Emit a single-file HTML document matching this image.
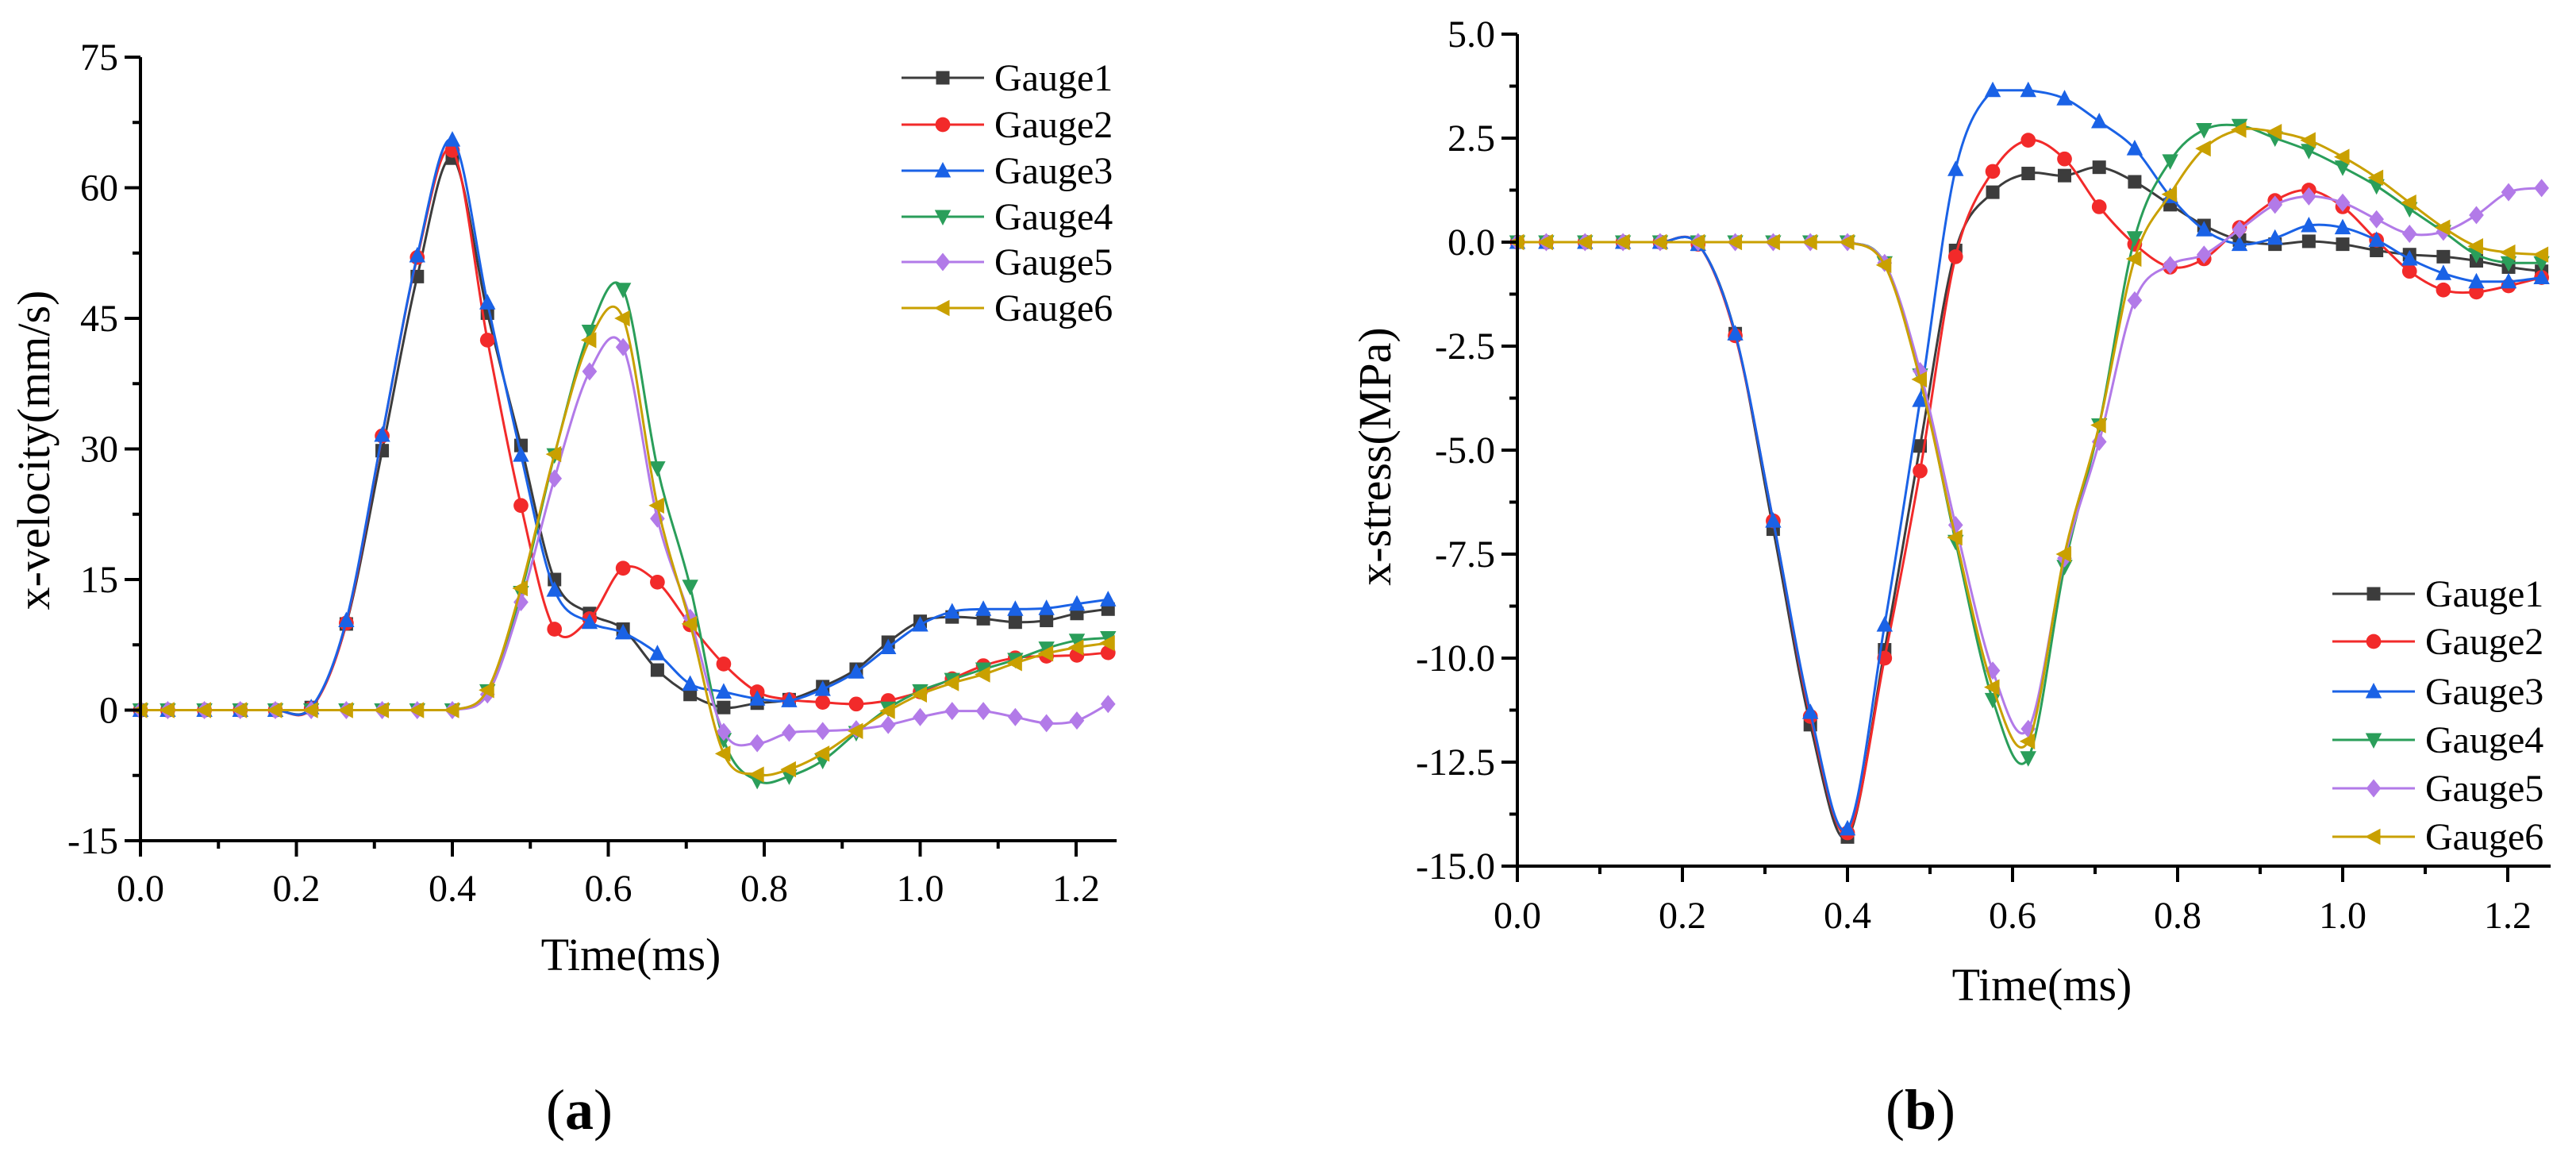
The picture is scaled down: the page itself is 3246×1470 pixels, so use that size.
<!DOCTYPE html>
<html><head><meta charset="utf-8"><style>
html,body{margin:0;padding:0;background:#fff;}
svg{display:block;}
svg text{font-family:"Liberation Serif",serif;}
</style></head><body>
<svg id="root" width="3246" height="1470" viewBox="0 0 3246 1470" font-family="Liberation Serif, serif">
<text x="730" y="1422" font-size="72" text-anchor="middle">(<tspan font-weight="bold">a</tspan>)</text>
<text x="2420" y="1422" font-size="72" text-anchor="middle">(<tspan font-weight="bold">b</tspan>)</text>
</svg>
<script>
const times=[0,0.035,0.082,0.128,0.173,0.219,0.264,0.310,0.355,0.400,0.445,0.488,0.531,0.576,0.619,0.663,0.705,0.748,0.791,0.832,0.875,0.918,0.959,1.0,1.041,1.081,1.122,1.162,1.201,1.241];
const seriesNames=["Gauge1","Gauge2","Gauge3","Gauge4","Gauge5","Gauge6"];
const velG1=[0,0,0,0,0,0.3,9.9,29.8,49.8,63.4,45.6,30.4,15,11.1,9.3,4.6,1.8,0.3,0.8,1.2,2.7,4.7,7.8,10.2,10.7,10.5,10.1,10.3,11.1,11.6];
const velG2=[0,0,0,0,0,0.2,10,31.5,52,64.3,42.5,23.5,9.3,10.5,16.3,14.7,9.8,5.3,2.1,1.2,0.9,0.7,1.1,2.1,3.6,5.1,6,6.2,6.3,6.6];
const velG3=[0,0,0,0,0,0.3,10.3,31.6,52.2,65.5,46.8,29.3,13.8,10.1,8.9,6.5,3,2.1,1.3,1.1,2.4,4.4,7.2,9.8,11.3,11.6,11.6,11.7,12.2,12.7];
const velG4=[0,0,0,0,0,0,0,0,0,0,2.2,13.5,29.3,43.5,48.3,27.8,14.2,-3.4,-8.1,-7.6,-5.8,-2.6,0.2,2.2,3.5,4.7,5.8,7.1,8,8.3];
const velG5=[0,0,0,0,0,0,0,0,0,0,1.8,12.4,26.6,38.9,41.7,22,10.6,-2.5,-3.8,-2.6,-2.4,-2.2,-1.7,-0.8,-0.1,-0.1,-0.8,-1.5,-1.2,0.7];
const velG6=[0,0,0,0,0,0,0,0,0,0,2.3,14,29.4,42.5,45,23.5,9.9,-5,-7.4,-6.8,-5,-2.4,-0.1,1.8,3.1,4.1,5.4,6.5,7.2,7.7];
const strG1=[0,0,0,0,0,-0.05,-2.2,-6.9,-11.6,-14.3,-9.8,-4.9,-0.2,1.2,1.65,1.6,1.8,1.45,0.9,0.4,0.05,-0.05,0.02,-0.05,-0.2,-0.3,-0.35,-0.45,-0.6,-0.7];
const strG2=[0,0,0,0,0,-0.05,-2.25,-6.7,-11.4,-14.2,-10,-5.5,-0.35,1.7,2.45,2,0.85,-0.05,-0.6,-0.4,0.35,1.0,1.25,0.85,0.05,-0.7,-1.15,-1.2,-1.05,-0.85];
const strG3=[0,0,0,0,0,-0.05,-2.2,-6.7,-11.3,-14.1,-9.2,-3.8,1.75,3.65,3.65,3.45,2.9,2.25,1.1,0.3,-0.05,0.1,0.4,0.35,0.05,-0.4,-0.75,-0.95,-0.95,-0.85];
const strG4=[0,0,0,0,0,0,0,0,0,0,-0.5,-3.2,-7.2,-11,-12.4,-7.8,-4.4,0.1,1.95,2.7,2.8,2.5,2.2,1.8,1.35,0.8,0.25,-0.3,-0.5,-0.5];
const strG5=[0,0,0,0,0,0,0,0,0,0,-0.5,-3.1,-6.8,-10.3,-11.7,-7.6,-4.8,-1.4,-0.55,-0.3,0.3,0.9,1.1,0.95,0.55,0.2,0.25,0.65,1.2,1.3];
const strG6=[0,0,0,0,0,0,0,0,0,0,-0.55,-3.3,-7.1,-10.7,-12,-7.5,-4.4,-0.4,1.15,2.25,2.7,2.65,2.45,2.05,1.55,0.95,0.35,-0.1,-0.25,-0.3];
const xTicks=[0,0.2,0.4,0.6,0.8,1.0,1.2];
const xTickLabels=["0.0","0.2","0.4","0.6","0.8","1.0","1.2"];
const velTicks=[-15,0,15,30,45,60,75];
const velTickLabels=["-15","0","15","30","45","60","75"];
const strTicks=[-15,-12.5,-10,-7.5,-5,-2.5,0,2.5,5];
const strTickLabels=["-15.0","-12.5","-10.0","-7.5","-5.0","-2.5","0.0","2.5","5.0"];

const colors=["#3c3c3c","#f22a2a","#1a62e6","#2a9e5a","#b27ae8","#c9a000"];
const markers=["square","circle","up","down","diamond","left"];
const NS="http://www.w3.org/2000/svg";
const root=document.getElementById('root');
const FF="Liberation Serif, serif";
function mk(tag,attrs,parent){const e=document.createElementNS(NS,tag);for(const k in attrs)e.setAttribute(k,attrs[k]);(parent||root).appendChild(e);return e;}

function spline(pts){
  let d=`M${pts[0][0]},${pts[0][1]}`;
  for(let i=0;i<pts.length-1;i++){
    const p0=pts[Math.max(i-1,0)],p1=pts[i],p2=pts[i+1],p3=pts[Math.min(i+2,pts.length-1)];
    let c1y=p1[1]+(p2[1]-p0[1])/6, c2y=p2[1]-(p3[1]-p1[1])/6;
    if(p1[1]===p2[1]){c1y=p1[1];c2y=p2[1];}
    const c1=[p1[0]+(p2[0]-p0[0])/6,c1y];
    const c2=[p2[0]-(p3[0]-p1[0])/6,c2y];
    d+=` C${c1[0].toFixed(1)},${c1[1].toFixed(1)} ${c2[0].toFixed(1)},${c2[1].toFixed(1)} ${p2[0].toFixed(1)},${p2[1].toFixed(1)}`;
  }
  return d;
}
function marker(g,type,x,y,c,s){
  let e;
  if(type==="square") e=mk('rect',{x:x-s,y:y-s,width:2*s,height:2*s,fill:c},g);
  else if(type==="circle") e=mk('circle',{cx:x,cy:y,r:s*1.1,fill:c},g);
  else if(type==="up") e=mk('polygon',{points:`${x},${y-s*1.3} ${x-s*1.2},${y+s} ${x+s*1.2},${y+s}`,fill:c},g);
  else if(type==="down") e=mk('polygon',{points:`${x},${y+s*1.3} ${x-s*1.2},${y-s} ${x+s*1.2},${y-s}`,fill:c},g);
  else if(type==="diamond") e=mk('polygon',{points:`${x},${y-s*1.35} ${x+s*1.1},${y} ${x},${y+s*1.35} ${x-s*1.1},${y}`,fill:c},g);
  else e=mk('polygon',{points:`${x-s*1.3},${y} ${x+s},${y-s*1.2} ${x+s},${y+s*1.2}`,fill:c},g);
  return e;
}

function chart(cfg){
  const g=mk('g',{});
  
  
  const sx=t=>cfg.x0+(t-0)*cfg.pxPerX;
  const sy=v=>cfg.yTop+(cfg.yMax-v)*(cfg.yBot-cfg.yTop)/(cfg.yMax-cfg.yMin);
  const xEnd=sx(1.252);
  cfg.series.forEach((vals,si)=>{
    const sg=mk('g',{},g);
    
    
    const pts=times.map((t,i)=>[sx(t),sy(vals[i])]);
    const p=mk('path',{d:spline(pts),fill:'none',stroke:colors[si],'stroke-width':3},sg);
    
    
    pts.forEach(q=>{const m=marker(sg,markers[si],q[0],q[1],colors[si],8.5);
      
      });
  });
  const ax=mk('g',{stroke:'#000','stroke-width':4},g);
  
  
  mk('line',{x1:cfg.x0,y1:cfg.yTop,x2:cfg.x0,y2:cfg.yBot+2},ax);
  mk('line',{x1:cfg.x0-2,y1:cfg.yBot,x2:xEnd,y2:cfg.yBot},ax);
  for(let k=0;k<=12;k++){const t=k*0.1;const x=sx(t);mk('line',{x1:x,y1:cfg.yBot,x2:x,y2:cfg.yBot+(k%2?10:20)},ax);}
  xTicks.forEach((t,i)=>{const tx=mk('text',{x:sx(t),y:cfg.xLabelY,'font-size':48,'text-anchor':'middle',fill:'#000','font-family':FF},g);tx.textContent=xTickLabels[i];
    
    });
  for(let i=0;i<cfg.yTicks.length;i++){
    const v=cfg.yTicks[i];const y=sy(v);
    mk('line',{x1:cfg.x0-20,y1:y,x2:cfg.x0,y2:y},ax);
    if(i<cfg.yTicks.length-1){const ym=sy((v+cfg.yTicks[i+1])/2);mk('line',{x1:cfg.x0-10,y1:ym,x2:cfg.x0,y2:ym},ax);}
    const tx=mk('text',{x:cfg.x0-28,y:y+16,'font-size':48,'text-anchor':'end',fill:'#000','font-family':FF},g);tx.textContent=cfg.yLabels[i];
    
    
  }
  const xt=mk('text',{x:cfg.xTitle[0],y:cfg.xTitle[1],'font-size':58,'text-anchor':'middle','font-family':FF},g);xt.textContent='Time(ms)';
  
  
  const yt=mk('text',{x:0,y:0,'font-size':58,'text-anchor':'middle','font-family':FF,transform:`translate(${cfg.yTitle[0]},${cfg.yTitle[1]}) rotate(-90)`},g);yt.textContent=cfg.yTitleText;
  
  
  const lg=mk('g',{},g);
  
  
  cfg.legendY.forEach((y,i)=>{
    const e=mk('g',{},lg);
    
    
    mk('line',{x1:cfg.legX,y1:y,x2:cfg.legX+104,y2:y,stroke:colors[i],'stroke-width':3},e);
    marker(e,markers[i],cfg.legX+52,y,colors[i],8.5);
    const t=mk('text',{x:cfg.legX+117,y:y+16,'font-size':48,'font-family':FF},e);t.textContent=seriesNames[i];
  });
}
chart({name:'velocity-chart',x0:177,pxPerX:982.5,yTop:72,yBot:1059,yMin:-15,yMax:75,
  series:[velG1,velG2,velG3,velG4,velG5,velG6],yTicks:velTicks,yLabels:velTickLabels,
  xLabelY:1135,xTitle:[795,1222],yTitle:[62,567],yTitleText:'x-velocity(mm/s)',
  legX:1136,legendY:[98,157,215,273,330,388]});
chart({name:'stress-chart',x0:1912,pxPerX:1040,yTop:43,yBot:1091,yMin:-15,yMax:5,
  series:[strG1,strG2,strG3,strG4,strG5,strG6],yTicks:strTicks,yLabels:strTickLabels,
  xLabelY:1169,xTitle:[2573,1260],yTitle:[1752,575],yTitleText:'x-stress(MPa)',
  legX:2939,legendY:[748,808,871,932,993,1054]});
</script>
</body></html>
